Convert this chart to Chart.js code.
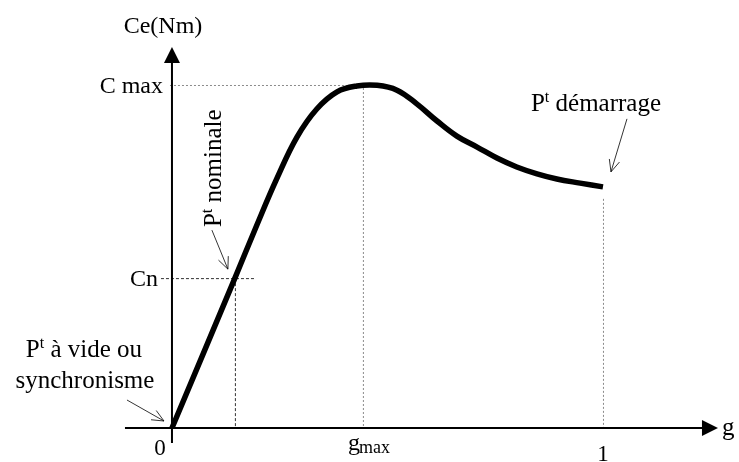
<!DOCTYPE html>
<html>
<head>
<meta charset="utf-8">
<script src="https://cdn.jsdelivr.net/npm/chart.js@4/dist/chart.umd.min.js"></script>
<style>
html,body{margin:0;padding:0;background:#fff;}
#wrap{width:739px;height:462px;}
</style>
</head>
<body>
<div id="wrap"><canvas id="chartCouple"></canvas></div>
<script>
// courbe couple / glissement (valeurs normalisées : Cmax = 1, g = 1 au démarrage)
const slip=[0,0.146,0.197,0.244,0.290,0.336,0.383,0.429,0.476,0.522,0.568,0.615,0.661,0.708,0.754,0.800,0.847,0.893,0.947,1.0];
const torque=[0,0.437,0.592,0.729,0.848,0.930,0.980,0.997,0.999,0.985,0.945,0.895,0.851,0.819,0.787,0.761,0.741,0.726,0.714,0.703];

// points remarquables
const gNom=0.146, cNom=0.437;   // point nominal
const gMax=0.443, cMax=1;        // couple maximal
const gStart=1, cStart=0.703;    // démarrage

const SERIF="'Liberation Serif','Times New Roman',serif";

function arrowOpen(ctx,x1,y1,x2,y2){
  const a=Math.atan2(y2-y1,x2-x1),L=13,s=0.42;
  ctx.beginPath();
  ctx.moveTo(x1,y1);ctx.lineTo(x2,y2);
  ctx.moveTo(x2-L*Math.cos(a-s),y2-L*Math.sin(a-s));
  ctx.lineTo(x2,y2);
  ctx.lineTo(x2-L*Math.cos(a+s),y2-L*Math.sin(a+s));
  ctx.stroke();
}

// "P" + exposant "t" + reste
function ptText(ctx,rest,x,y,align,size){
  ctx.font=size+'px '+SERIF;
  const wP=ctx.measureText('P').width;
  ctx.font=Math.round(size*0.62)+'px '+SERIF;
  const wT=ctx.measureText('t').width;
  ctx.font=size+'px '+SERIF;
  const wR=ctx.measureText(rest).width;
  const w=wP+wT+wR;
  let x0=x;
  if(align==='center')x0=x-w/2;
  else if(align==='right')x0=x-w;
  ctx.textAlign='left';ctx.textBaseline='alphabetic';
  ctx.fillText('P',x0,y);
  ctx.font=Math.round(size*0.62)+'px '+SERIF;
  ctx.fillText('t',x0+wP,y-size*0.36);
  ctx.font=size+'px '+SERIF;
  ctx.fillText(rest,x0+wP+wT,y);
}

const guides={
  id:'guides',
  beforeDatasetsDraw(chart){
    const {ctx,scales:{x,y}}=chart;
    const x0=x.getPixelForValue(0),y0=y.getPixelForValue(0);
    ctx.save();
    // pointillés gris
    ctx.strokeStyle='#8a8a8a';ctx.lineWidth=1;ctx.setLineDash([2,2]);
    const yC=y.getPixelForValue(cMax),xG=x.getPixelForValue(gMax);
    ctx.beginPath();
    ctx.moveTo(x0-2,yC+0.5);ctx.lineTo(xG,yC+0.5);
    ctx.moveTo(xG+0.5,yC+3);ctx.lineTo(xG+0.5,y0);
    const x1=x.getPixelForValue(gStart),yS=y.getPixelForValue(cStart);
    ctx.moveTo(x1+0.5,yS+12);ctx.lineTo(x1+0.5,y0);
    ctx.stroke();
    // tirets point nominal
    ctx.strokeStyle='#333';ctx.setLineDash([3,2]);
    const xn=x.getPixelForValue(gNom),yn=y.getPixelForValue(cNom);
    ctx.beginPath();
    ctx.moveTo(x0-11,yn+0.5);ctx.lineTo(xn+21,yn+0.5);
    ctx.moveTo(xn+0.5,yn);ctx.lineTo(xn+0.5,y0);
    ctx.stroke();
    ctx.setLineDash([]);
    // axes
    ctx.strokeStyle='#000';ctx.fillStyle='#000';ctx.lineWidth=2;
    ctx.beginPath();
    ctx.moveTo(x0-47,y0);ctx.lineTo(x0+531,y0);
    ctx.moveTo(x0,y0+15);ctx.lineTo(x0,y0-366);
    ctx.stroke();
    // flèches des axes
    ctx.beginPath();
    ctx.moveTo(x0+546,y0);ctx.lineTo(x0+530,y0-8);ctx.lineTo(x0+530,y0+8);ctx.closePath();
    ctx.moveTo(x0,y0-381);ctx.lineTo(x0-8,y0-365);ctx.lineTo(x0+8,y0-365);ctx.closePath();
    ctx.fill();
    ctx.restore();
  },
  afterDraw(chart){
    const {ctx,scales:{x,y}}=chart;
    const x0=x.getPixelForValue(0),y0=y.getPixelForValue(0);
    const xn=x.getPixelForValue(gNom),yn=y.getPixelForValue(cNom);
    const xG=x.getPixelForValue(gMax),yC=y.getPixelForValue(cMax);
    const x1=x.getPixelForValue(gStart),yS=y.getPixelForValue(cStart);
    ctx.save();
    ctx.fillStyle='#000';ctx.strokeStyle='#000';
    ctx.font='24px '+SERIF;ctx.textBaseline='alphabetic';
    // titre de l'axe vertical
    ctx.textAlign='center';ctx.fillText('Ce(Nm)',x0-9,y0-395);
    ctx.textAlign='right';
    ctx.fillText('C max',x0-9,yC+8);
    ctx.fillText('Cn',x0-14,yn+8);
    // graduations horizontales
    ctx.font='23px '+SERIF;ctx.textAlign='center';
    ctx.fillText('0',x0-12,y0+27);
    ctx.fillText('1',x1,y0+33);
    ctx.textAlign='left';
    ctx.font='24px '+SERIF;ctx.fillText('g',xG-15,y0+22);
    ctx.font='18px '+SERIF;ctx.fillText('max',xG-4,y0+25);
    ctx.font='25px '+SERIF;ctx.fillText('g',x0+550,y0+7);
    // annotations
    ptText(ctx,' à vide ou',x0-88,y0-71,'center',25);
    ctx.font='25px '+SERIF;ctx.textAlign='center';
    ctx.fillText('synchronisme',x0-87,y0-40);
    ptText(ctx,' démarrage',x1-7,yS-76,'center',25);
    ctx.save();
    ctx.translate(xn-14,yn-51);ctx.rotate(-Math.PI/2);
    ptText(ctx,' nominale',0,0,'left',25);
    ctx.restore();
    ctx.lineWidth=0.8;
    arrowOpen(ctx,x0-45,y0-28,x0-8,y0-7);
    arrowOpen(ctx,xn-23,yn-48,xn-7,yn-9);
    arrowOpen(ctx,x1+24,yS-68,x1+8,yS-15);
    ctx.restore();
  }
};

new Chart(document.getElementById('chartCouple'),{
  type:'line',
  data:{
    datasets:[{
      data:slip.map((g,i)=>({x:g,y:torque[i]})),
      borderColor:'#000',borderWidth:5.5,borderCapStyle:'butt',
      pointRadius:0,tension:0.4,fill:false
    }]
  },
  options:{
    responsive:true,maintainAspectRatio:false,animation:false,
    layout:{padding:0},
    plugins:{legend:{display:false},tooltip:{enabled:false}},
    scales:{
      x:{type:'linear',min:-0.399,max:1.3156,display:false},
      y:{type:'linear',min:-0.0991,max:1.2478,display:false}
    }
  },
  plugins:[guides]
});
</script>
</body>
</html>
